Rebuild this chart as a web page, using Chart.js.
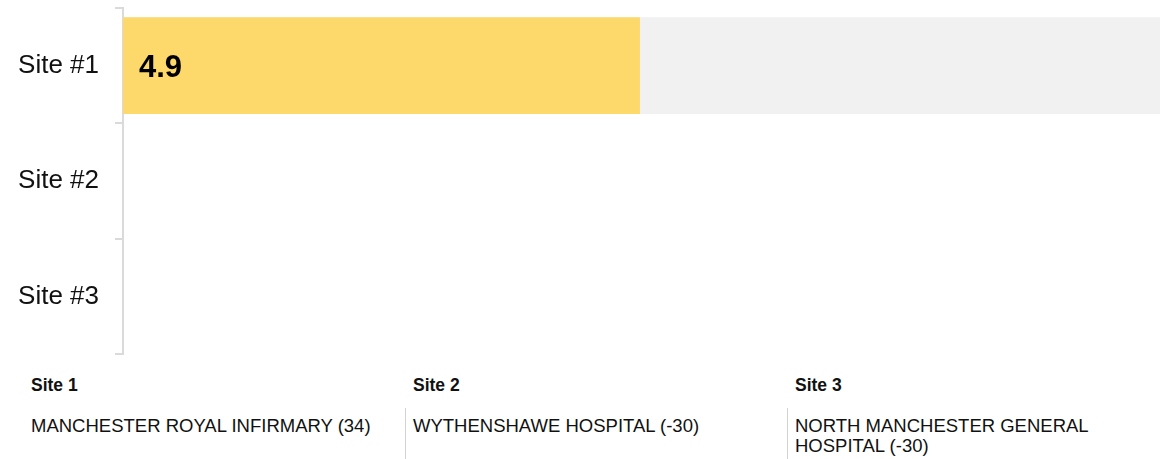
<!DOCTYPE html>
<html>
<head>
<meta charset="utf-8">
<title>Site scores</title>
<script src="https://cdn.jsdelivr.net/npm/chart.js@4/dist/chart.umd.min.js"></script>
<style>
  html, body { margin: 0; padding: 0; background: #ffffff; }
  body { width: 1160px; height: 459px; overflow: hidden; font-family: Arial, "Liberation Sans", sans-serif; color: #111; }
  #chartBox { position: relative; width: 1178px; height: 362px; }
  #sites { display: flex; padding-left: 23px; margin-top: 13px; }
  .site { flex: 0 0 382px; box-sizing: border-box; }
  .site .head { font-weight: bold; font-size: 17.5px; line-height: 20px; padding-left: 8px; }
  .site .name { margin-top: 13px; border-left: 1.5px solid #d2d2d2; padding: 8px 10px 6px 7px; font-size: 18.5px; line-height: 20px; min-height: 40px; }
  .site:first-child .name { border-left-color: transparent; }
</style>
</head>
<body>
<div id="chartBox"><canvas id="scoreChart"></canvas></div>
<div id="sites"></div>
<script>
// Categories and values
const categories = ['Site #1', 'Site #2', 'Site #3'];
const scores = [4.9, null, null];
const trackValues = [10, null, null];
const scaleMax = 10;

// Site key shown under the chart
const siteHeads = ['Site 1', 'Site 2', 'Site 3'];
const siteNames = ['MANCHESTER ROYAL INFIRMARY', 'WYTHENSHAWE HOSPITAL', 'NORTH MANCHESTER GENERAL HOSPITAL'];
const siteCounts = [34, -30, -30];

const FONT = 'Arial, "Liberation Sans", sans-serif';
const LABEL_AXIS_WIDTH = 106;

// Bold value written inside the start of each bar
const valueLabels = {
  id: 'valueLabels',
  afterDatasetsDraw(chart) {
    const ctx = chart.ctx;
    const meta = chart.getDatasetMeta(0);
    ctx.save();
    ctx.font = 'bold 31px ' + FONT;
    ctx.fillStyle = '#000000';
    ctx.textAlign = 'left';
    ctx.textBaseline = 'middle';
    meta.data.forEach((bar, i) => {
      const v = scores[i];
      if (v === null || v === undefined) return;
      ctx.fillText(v.toFixed(1), bar.base + 16, bar.y + 2.5);
    });
    ctx.restore();
  }
};

new Chart(document.getElementById('scoreChart'), {
  type: 'bar',
  data: {
    labels: categories,
    datasets: [
      {
        label: 'Score',
        data: scores,
        backgroundColor: '#fdd86a',
        borderWidth: 0,
        grouped: false,
        order: 0,
        barPercentage: 0.84,
        categoryPercentage: 1
      },
      {
        label: 'Track',
        data: trackValues,
        backgroundColor: '#f1f1f1',
        borderWidth: 0,
        grouped: false,
        order: 1,
        barPercentage: 0.84,
        categoryPercentage: 1
      }
    ]
  },
  options: {
    indexAxis: 'y',
    responsive: true,
    maintainAspectRatio: false,
    animation: false,
    layout: { padding: { left: 17, top: 8, bottom: 8, right: 0 } },
    plugins: {
      legend: { display: false },
      tooltip: { enabled: false }
    },
    scales: {
      x: {
        display: false,
        min: 0,
        max: scaleMax
      },
      y: {
        position: 'left',
        offset: true,
        grid: {
          offset: true,
          drawOnChartArea: false,
          drawTicks: true,
          tickLength: 8,
          lineWidth: 2,
          color: '#dadada'
        },
        border: { display: true, color: '#dadada', width: 2 },
        ticks: {
          padding: 16,
          color: '#111111',
          font: { family: FONT, size: 26 }
        },
        afterFit(scale) {
          scale.width = LABEL_AXIS_WIDTH;
          scale.paddingTop = 0;
          scale.paddingBottom = 0;
        }
      }
    }
  },
  plugins: [valueLabels]
});

// Site key
const sitesEl = document.getElementById('sites');
siteHeads.forEach((head, i) => {
  const col = document.createElement('div');
  col.className = 'site';
  const h = document.createElement('div');
  h.className = 'head';
  h.textContent = head;
  const n = document.createElement('div');
  n.className = 'name';
  n.textContent = siteNames[i] + ' (' + siteCounts[i] + ')';
  col.appendChild(h);
  col.appendChild(n);
  sitesEl.appendChild(col);
});
</script>
</body>
</html>
